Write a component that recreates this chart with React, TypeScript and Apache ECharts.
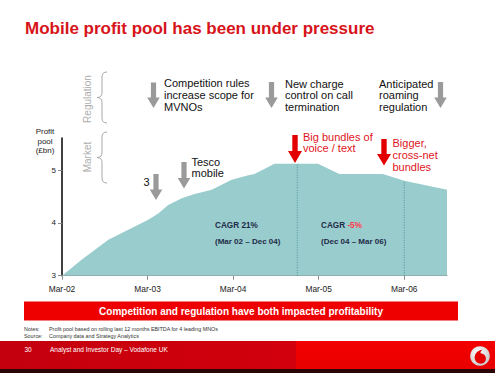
import React, { useEffect, useRef } from "react";
import * as echarts from "echarts";

// ---- data ----
const months = [0, 2.75, 6.5, 9.3, 12.1, 13.5, 14.9, 16.8, 18.6, 21, 23.8, 26, 27, 29.8, 35.9, 38.9, 45, 48, 54];
const profitPool = [3.0, 3.3, 3.68, 3.87, 4.06, 4.18, 4.34, 4.47, 4.55, 4.63, 4.82, 4.9, 4.93, 5.12, 5.12, 4.93, 4.93, 4.8, 4.63];
const xTickMonths = [0, 12, 24, 36, 48];
const xTickLabels = ["Mar-02", "Mar-03", "Mar-04", "Mar-05", "Mar-06"];
const yTicks = [3, 4, 5];
const dividerMonths = [33, 48];
const dividerValues = [5.12, 4.8];

const FONT = "'Liberation Sans', Arial, sans-serif";
const RED = "#e0141c";
const GREY_ARROW = "#9a9a9a";

let registered = false;
function registerShapes() {
  if (registered) return;
  registered = true;
  echarts.graphic.registerShape(
    "brace",
    echarts.graphic.extendPath(
      "M10 0 Q5 0 5 5 L5 20.5 Q5 25.5 0 25.5 Q5 25.5 5 30.5 L5 46 Q5 51 10 51",
      {}
    )
  );
  echarts.graphic.registerShape(
    "speech",
    echarts.graphic.extendPath(
      "M2.8 -6.8 C-1.8 -6.2 -5.2 -2.6 -4.8 1.8 C-4.4 5.4 -1.4 7.2 1.4 7.2 C4.6 7.2 6.4 4.6 6.4 2 C6.4 -1.2 3.8 -2.8 1 -3.2 C1 -4.8 1.6 -6 2.8 -6.8 Z",
      {}
    )
  );
}

function arrow(cx: number, y0: number, L: number, color: string, hw = 6.3, hl = 10.5, sw = 2.6) {
  return {
    type: "polygon",
    silent: true,
    z: 100,
    shape: {
      points: [
        [cx - sw, y0],
        [cx + sw, y0],
        [cx + sw, y0 + L - hl],
        [cx + hw, y0 + L - hl],
        [cx, y0 + L],
        [cx - hw, y0 + L - hl],
        [cx - sw, y0 + L - hl],
      ],
    },
    style: { fill: color },
  };
}

function txt(text: string, x: number, y: number, o: any = {}) {
  return {
    type: "text",
    silent: true,
    z: 100,
    x,
    y,
    rotation: o.rotation || 0,
    style: {
      text,
      fill: o.fill || "#111",
      fontSize: o.fontSize || 11,
      fontWeight: o.fontWeight || "normal",
      fontFamily: FONT,
      align: o.align || "left",
      verticalAlign: o.verticalAlign || "middle",
      lineHeight: o.lineHeight,
      rich: o.rich,
    },
  };
}

export default function App() {
  const ref = useRef<HTMLDivElement>(null);
  useEffect(() => {
    if (!ref.current) return;
    registerShapes();
    const chart = echarts.init(ref.current, undefined, { renderer: "svg" });

    const areaData = months.map((m, i) => [m, profitPool[i]]);
    const dividerSeries = dividerMonths.map((m, i) => ({
      type: "line",
      data: [
        [m, yTicks[0]],
        [m, dividerValues[i]],
      ],
      symbol: "none",
      silent: true,
      lineStyle: { color: "#4f9499", width: 1, type: [1, 1.5] },
      z: 5,
    }));

    const graphics: any[] = [
      // title
      txt("Mobile profit pool has been under pressure", 25, 28, { fill: "#d7141a", fontSize: 17, fontWeight: "bold" }),
      // side labels
      txt("Regulation", 87, 99, { fill: "#adadad", fontSize: 10, align: "center", rotation: Math.PI / 2 }),
      txt("Market", 87, 157, { fill: "#adadad", fontSize: 10, align: "center", rotation: Math.PI / 2 }),
      { type: "brace", x: 97, y: 72, z: 100, silent: true, style: { fill: "none", stroke: "#a8a8a8", lineWidth: 1 } },
      { type: "brace", x: 97, y: 132, z: 100, silent: true, style: { fill: "none", stroke: "#a8a8a8", lineWidth: 1 } },
      // y axis title
      txt("Profit\npool\n(£bn)", 45, 127, { fontSize: 8, align: "center", verticalAlign: "top", lineHeight: 9.5, fill: "#222" }),
      // regulation arrows + text
      arrow(153.5, 82.5, 25.5, GREY_ARROW),
      arrow(271.5, 82, 26, GREY_ARROW),
      arrow(440.5, 82, 26, GREY_ARROW),
      txt("Competition rules\nincrease scope for\nMVNOs", 164, 77.2, { verticalAlign: "top", lineHeight: 11.8 }),
      txt("New charge\ncontrol on call\ntermination", 285, 78.2, { verticalAlign: "top", lineHeight: 11.5 }),
      txt("Anticipated\nroaming\nregulation", 379, 78.2, { verticalAlign: "top", lineHeight: 11.5 }),
      // market arrows + text
      arrow(156, 174, 26, GREY_ARROW),
      arrow(184, 162, 26.5, GREY_ARROW),
      txt("3", 143.5, 182, { fontSize: 11 }),
      txt("Tesco\nmobile", 191.5, 156, { verticalAlign: "top", lineHeight: 11 }),
      arrow(295, 135, 28, "#e30000", 7, 12, 2.7),
      arrow(384, 139, 26.5, "#e30000", 7, 11.5, 2.7),
      txt("Big bundles of\nvoice / text", 303, 131, { verticalAlign: "top", lineHeight: 11.6, fill: RED }),
      txt("Bigger,\ncross-net\nbundles", 392.5, 137.5, { verticalAlign: "top", lineHeight: 11.7, fill: RED }),
      // CAGR labels
      txt("CAGR 21%", 215, 225, { fontSize: 8.2, fontWeight: "bold", fill: "#1e2b48" }),
      txt("(Mar 02 – Dec 04)", 215, 241, { fontSize: 8, fontWeight: "bold", fill: "#1e2b48" }),
      {
        type: "text",
        silent: true,
        z: 100,
        x: 321,
        y: 225,
        style: {
          text: "{a|CAGR }{r|-5%}",
          fontFamily: FONT,
          verticalAlign: "middle",
          rich: {
            a: { fill: "#1e2b48", fontSize: 8.2, fontWeight: "bold", fontFamily: FONT },
            r: { fill: "#ff3b4a", fontSize: 8.2, fontWeight: "bold", fontFamily: FONT },
          },
        },
      },
      txt("(Dec 04 – Mar 06)", 321, 241, { fontSize: 8, fontWeight: "bold", fill: "#1e2b48" }),
      // banner
      { type: "rect", silent: true, z: 100, shape: { x: 24, y: 301.5, width: 434, height: 19 }, style: { fill: "#ee0000" } },
      txt("Competition and regulation have both impacted profitability", 241, 311.2, {
        fill: "#ffffff",
        fontSize: 10,
        fontWeight: "bold",
        align: "center",
      }),
      // notes
      txt("Notes:", 24, 328.5, { fontSize: 5.4, fill: "#333" }),
      txt("Profit pool based on rolling last 12 months EBITDA for 4 leading MNOs", 49, 328.5, { fontSize: 5.4, fill: "#333" }),
      txt("Source:", 24, 335.5, { fontSize: 5.4, fill: "#333" }),
      txt("Company data and Strategy Analytics", 49, 335.5, { fontSize: 5.4, fill: "#333" }),
      // footer
      {
        type: "rect",
        silent: true,
        z: 100,
        shape: { x: 0, y: 341, width: 296, height: 28 },
        style: {
          fill: new echarts.graphic.LinearGradient(0, 0, 1, 0, [
            { offset: 0, color: "#c4000e" },
            { offset: 1, color: "#d2000c" },
          ]),
        },
      },
      {
        type: "rect",
        silent: true,
        z: 100,
        shape: { x: 296, y: 341, width: 199, height: 28 },
        style: {
          fill: new echarts.graphic.LinearGradient(0, 0, 0, 1, [
            { offset: 0, color: "#f40000" },
            { offset: 1, color: "#e80000" },
          ]),
        },
      },
      { type: "rect", silent: true, z: 100, shape: { x: 0, y: 369, width: 495, height: 4 }, style: { fill: "#2a0505" } },
      txt("30", 24.5, 349.5, { fontSize: 6.5, fill: "#ffffff" }),
      txt("Analyst and Investor Day – Vodafone UK", 50, 349.5, { fontSize: 6.5, fill: "#ffffff" }),
      {
        type: "circle",
        silent: true,
        z: 100,
        shape: { cx: 480, cy: 356, r: 9.8 },
        style: {
          fill: new echarts.graphic.RadialGradient(0.4, 0.35, 0.7, [
            { offset: 0, color: "#ffffff" },
            { offset: 1, color: "#c8c8c8" },
          ]),
        },
      },
      { type: "speech", x: 479.5, y: 356.5, z: 101, silent: true, style: { fill: "#e60000" } },
    ];

    chart.setOption({
      animation: false,
      grid: { left: 62, right: 48, top: 138, bottom: 97.3 },
      xAxis: {
        type: "value",
        min: 0,
        max: 54,
        interval: 12,
        axisLine: { show: true, lineStyle: { color: "#8a8a8a", width: 1 } },
        axisTick: { show: true, length: 4, customValues: xTickMonths, lineStyle: { color: "#8a8a8a" } },
        axisLabel: {
          customValues: xTickMonths,
          formatter: (v: number) => {
            const i = xTickMonths.indexOf(v);
            return i >= 0 ? xTickLabels[i] : "";
          },
          margin: 9,
          fontSize: 8.4,
          fontFamily: FONT,
          color: "#222",
        },
        splitLine: { show: false },
      },
      yAxis: {
        type: "value",
        min: 3,
        max: 5.61,
        interval: 1,
        axisLine: { show: true, lineStyle: { color: "#000", width: 1.5 } },
        axisTick: { show: true, length: 4, customValues: yTicks, lineStyle: { color: "#8a8a8a" } },
        axisLabel: {
          customValues: yTicks,
          margin: 6,
          fontSize: 8,
          fontFamily: FONT,
          color: "#222",
        },
        splitLine: { show: false },
      },
      series: [
        {
          type: "line",
          data: areaData,
          symbol: "none",
          silent: true,
          lineStyle: { width: 0 },
          areaStyle: { color: "#99cccd", opacity: 1 },
          z: 2,
        },
        ...dividerSeries,
      ],
      graphic: graphics,
    });
    return () => chart.dispose();
  }, []);
  return <div ref={ref} style={{ position: "absolute", left: 0, top: 0, width: 495, height: 373, background: "#fff" }} />;
}
